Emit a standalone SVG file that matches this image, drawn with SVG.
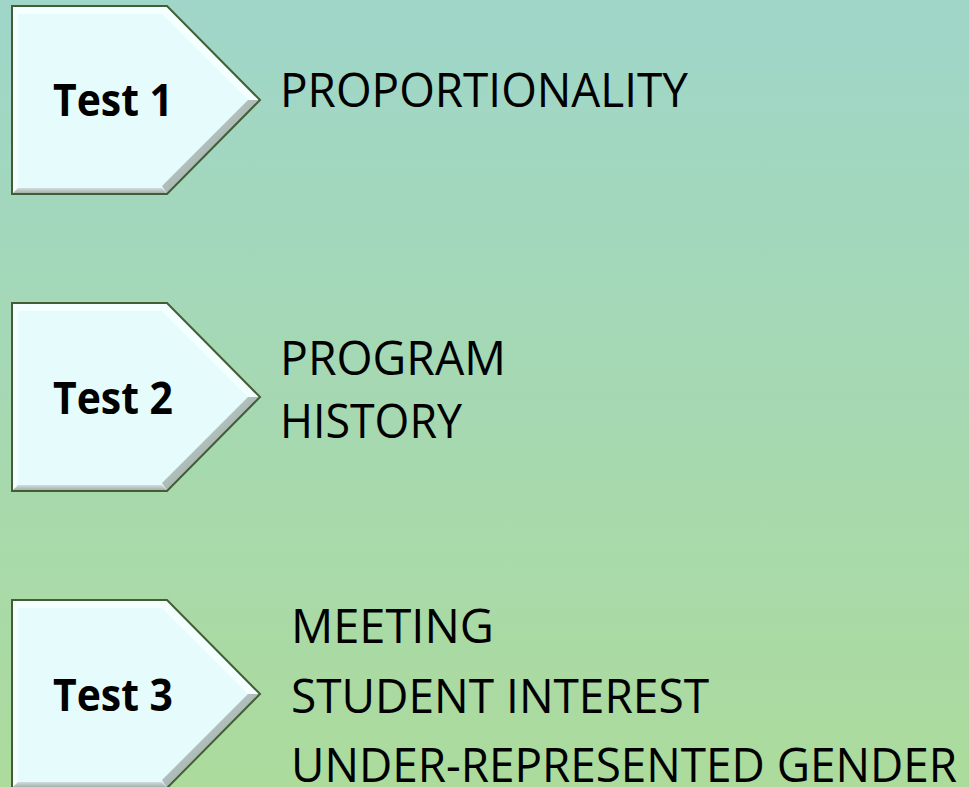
<svg xmlns="http://www.w3.org/2000/svg" width="969" height="787" viewBox="0 0 969 787">
<defs>
<linearGradient id="bg" x1="0" y1="0" x2="0" y2="1">
<stop offset="0" stop-color="#9fd6c9"/>
<stop offset="1" stop-color="#acdb9c"/>
</linearGradient>
<linearGradient id="bevBR" x1="0" y1="0" x2="1" y2="1">
<stop offset="0" stop-color="#dde9e9"/>
<stop offset="1" stop-color="#7d8d86"/>
</linearGradient>
<linearGradient id="bevB" x1="0" y1="0" x2="0" y2="1">
<stop offset="0" stop-color="#d2dede"/>
<stop offset="1" stop-color="#9aa8a3"/>
</linearGradient>
<g id="arrow">
<path d="M0,0 H155 L248,94 L155,188 H0 Z" fill="#e6fbfb"/>
<path d="M0,0 H155 L248,94 L236,94 L150,8 H6 Z" fill="#f4ffff"/>
<path d="M0,0 L6,8 V182 L0,188 Z" fill="#f6ffff"/>
<path d="M248,94 L155,188 L150,180 L236,94 Z" fill="url(#bevBR)"/>
<path d="M155,188 H0 L6,182 H150 Z" fill="url(#bevB)"/>
<path d="M0,0 H155 L248,94 L155,188 H0 Z" fill="none" stroke="#435e35" stroke-width="2"/>
</g>
</defs>
<style>
.lbl{font-family:"Open Sans","Liberation Sans",sans-serif;font-weight:bold;font-size:45px;fill:#000}
.txt{font-family:"Open Sans","Liberation Sans",sans-serif;font-size:48px;fill:#000}
</style>
<rect width="969" height="787" fill="url(#bg)"/>
<g id="connectors"/>
<g id="test1">
<use href="#arrow" transform="translate(12,6)"/>
<text class="lbl" x="53" y="116" textLength="120" lengthAdjust="spacingAndGlyphs">Test 1</text>
</g>
<g id="text1">
<text class="txt" x="280" y="107" textLength="408" lengthAdjust="spacingAndGlyphs">PROPORTIONALITY</text>
</g>
<g id="test2">
<use href="#arrow" transform="translate(12,303)"/>
<text class="lbl" x="53" y="414" textLength="120" lengthAdjust="spacingAndGlyphs">Test 2</text>
</g>
<g id="text2">
<text class="txt" x="280" y="375" textLength="226" lengthAdjust="spacingAndGlyphs">PROGRAM</text>
<text class="txt" x="280" y="438" textLength="182" lengthAdjust="spacingAndGlyphs">HISTORY</text>
</g>
<g id="test3">
<use href="#arrow" transform="translate(12,600)"/>
<text class="lbl" x="53" y="711" textLength="120" lengthAdjust="spacingAndGlyphs">Test 3</text>
</g>
<g id="text3">
<text class="txt" x="291" y="643" textLength="203" lengthAdjust="spacingAndGlyphs">MEETING</text>
<text class="txt" x="291" y="713" textLength="418" lengthAdjust="spacingAndGlyphs">STUDENT INTEREST</text>
<text class="txt" x="291" y="782" textLength="666" lengthAdjust="spacingAndGlyphs">UNDER-REPRESENTED GENDER</text>
</g>
</svg>
